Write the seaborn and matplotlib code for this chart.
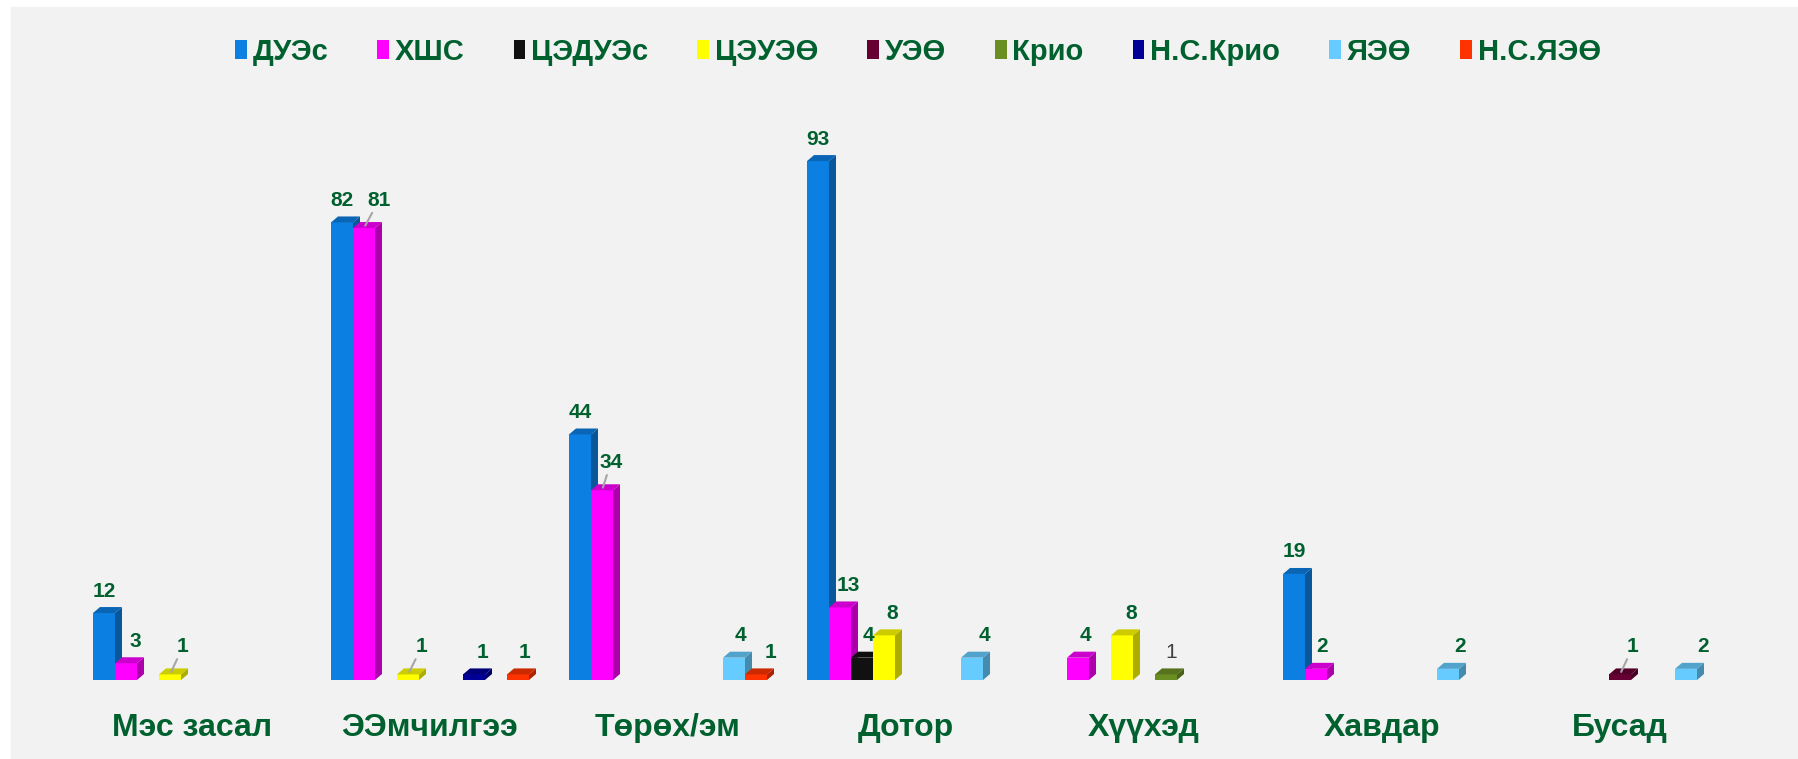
import matplotlib
matplotlib.use("Agg")
import matplotlib.pyplot as plt
import seaborn as sns
import pandas as pd
from matplotlib.patches import Polygon, Patch, Rectangle
from matplotlib.colors import to_rgb

categories = ["Мэс засал", "ЭЭмчилгээ", "Төрөх/эм", "Дотор", "Хүүхэд", "Хавдар", "Бусад"]
series = ["ДУЭс", "ХШС", "ЦЭДУЭс", "ЦЭУЭӨ", "УЭӨ", "Крио", "Н.С.Крио", "ЯЭӨ", "Н.С.ЯЭӨ"]

dues = [12, 82, 44, 93, 0, 19, 0]
hshs = [3, 81, 34, 13, 4, 2, 0]
tsedues = [0, 0, 0, 4, 0, 0, 0]
tseuee = [1, 1, 0, 8, 8, 0, 0]
uee = [0, 0, 0, 0, 0, 0, 1]
krio = [0, 0, 0, 0, 1, 0, 0]
ns_krio = [0, 1, 0, 0, 0, 0, 0]
yaee = [0, 0, 4, 4, 0, 2, 2]
ns_yaee = [0, 1, 1, 0, 0, 0, 0]

values = [dues, hshs, tsedues, tseuee, uee, krio, ns_krio, yaee, ns_yaee]
colors = ["#0c80e2", "#ff00ff", "#111111", "#ffff00", "#660033",
          "#6b8e23", "#000099", "#66ccff", "#ff3300"]

rows = []
for s, vals in zip(series, values):
    for c, v in zip(categories, vals):
        rows.append({"category": c, "series": s, "value": v})
df = pd.DataFrame(rows)

# label nudges in pixels (dx, dy, leader line)
nudges = {
    ("Мэс засал", "ХШС"): (9, 0, False),
    ("Мэс засал", "ЦЭУЭӨ"): (13, 6, True),
    ("ЭЭмчилгээ", "ХШС"): (15, 6, True),
    ("ЭЭмчилгээ", "ЦЭУЭӨ"): (14, 6, True),
    ("ЭЭмчилгээ", "Н.С.Крио"): (8, 0, False),
    ("ЭЭмчилгээ", "Н.С.ЯЭӨ"): (6, 0, False),
    ("Төрөх/эм", "ХШС"): (9, 6, True),
    ("Төрөх/эм", "ЯЭӨ"): (6, 0, False),
    ("Төрөх/эм", "Н.С.ЯЭӨ"): (14, 0, False),
    ("Дотор", "ХШС"): (8, 0, False),
    ("Дотор", "ЦЭДУЭс"): (6, 0, False),
    ("Дотор", "ЦЭУЭӨ"): (8, 0, False),
    ("Дотор", "ЯЭӨ"): (12, 0, False),
    ("Хүүхэд", "ХШС"): (7, 0, False),
    ("Хүүхэд", "ЦЭУЭӨ"): (9, 0, False),
    ("Хүүхэд", "Крио"): (5, 0, False),
    ("Хавдар", "ХШС"): (6, 0, False),
    ("Хавдар", "ЯЭӨ"): (12, 0, False),
    ("Бусад", "УЭӨ"): (13, 6, True),
    ("Бусад", "ЯЭӨ"): (17, 0, False),
}

green = "#00602e"

sns.set_style("white")
plt.rcParams["font.family"] = ["Liberation Sans", "DejaVu Sans"]

W, H = 1798, 759
fig = plt.figure(figsize=(W / 100, H / 100), dpi=100)
fig.patches.append(Rectangle((11 / W, 0), (1797 - 11) / W, (H - 7) / H,
                             transform=fig.transFigure, color="#f2f2f2", zorder=-5))

ax = fig.add_axes([73 / W, 79 / H, 1666 / W, 580.3 / H])
ax.set_facecolor("none")
ax.set_zorder(2)

sns.barplot(data=df, x="category", y="value", hue="series", order=categories,
            hue_order=series, palette=colors, width=0.832, errorbar=None,
            saturation=1, linewidth=0, legend=False, ax=ax)

ax.set_xlim(-0.5, len(categories) - 0.5)
ax.set_ylim(0, 104)
sns.despine(ax=ax, left=True, bottom=True)
ax.set_yticks([])
ax.set_ylabel("")
ax.set_xlabel("")
ax.tick_params(axis="x", length=0, pad=24)
for t in ax.get_xticklabels():
    t.set_fontsize(23)
    t.set_fontweight("bold")
    t.set_color(green)

# 3D offsets (pixels -> data)
px_x = 7 / 1666 * len(categories)
px_y = 6 / 580.3 * 104

def shade(c, f):
    r, g, b = to_rgb(c)
    return (r * f, g * f, b * f)

for k, cont in enumerate(ax.containers):
    col = colors[k]
    for j, bar in enumerate(cont):
        h = bar.get_height()
        if h <= 0:
            bar.set_visible(False)
            continue
        x0 = bar.get_x()
        x1 = x0 + bar.get_width()
        z = 3 + k * 0.01
        bar.set_zorder(z)
        side = Polygon([(x1, 0), (x1 + px_x, px_y), (x1 + px_x, h + px_y), (x1, h)],
                       closed=True, facecolor=shade(col, 0.68), edgecolor="none", zorder=z + 0.005)
        top = Polygon([(x0, h), (x0 + px_x, h + px_y), (x1 + px_x, h + px_y), (x1, h)],
                      closed=True, facecolor=shade(col, 0.8), edgecolor="none", zorder=z + 0.005)
        ax.add_patch(side)
        ax.add_patch(top)

        cat = categories[j]
        s = series[k]
        dx, dy, leader = nudges.get((cat, s), (0, 0, False))
        xc = x0 + bar.get_width() / 2
        style = dict(fontsize=15, fontweight="bold", color=green)
        if (cat, s) == ("Хүүхэд", "Крио"):
            style = dict(fontsize=15, fontweight="normal", color="#404040")
        if leader:
            ax.annotate(str(int(h)), xy=(xc, h), xytext=(dx, 22 + dy),
                        textcoords="offset pixels", ha="center", va="center",
                        arrowprops=dict(arrowstyle="-", color="#a6a6a6", lw=1.5,
                                        shrinkA=0, shrinkB=2),
                        zorder=10, **style)
        else:
            ax.annotate(str(int(h)), xy=(xc, h), xytext=(dx, 22 + dy),
                        textcoords="offset pixels", ha="center", va="center",
                        zorder=10, **style)

handles = [Patch(facecolor=c, edgecolor="none", label=s) for s, c in zip(series, colors)]
fig.legend(handles=handles, loc="center", bbox_to_anchor=(918 / W, 1 - 52 / H),
           ncol=9, frameon=False, prop=dict(size=21, weight="bold"),
           labelcolor=green, handlelength=0.4, handleheight=0.6,
           handletextpad=0.2, columnspacing=1.68)

fig.savefig("out.png", dpi=100, facecolor="white")
